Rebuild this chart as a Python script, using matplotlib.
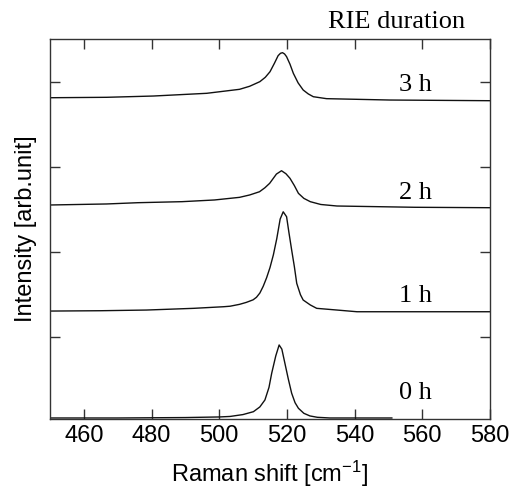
import matplotlib
matplotlib.use("Agg")
import matplotlib.pyplot as plt
import numpy as np

# spectra: Raman shift (cm-1) and intensity above each baseline
x_0h = [450, 470, 490, 500, 503.2, 507, 510.1, 512, 513.5, 514.7, 515.5, 516.7, 517.7, 518.5, 519.4, 520.4, 521.4, 522.4, 523.4, 525, 526.8, 529, 532.7, 551]
y_0h = [0.0, 0.0, 0.05, 0.12, 0.18, 0.4, 0.74, 1.3, 2.12, 3.6, 5.26, 7.3, 8.59, 8.1, 6.44, 4.6, 2.91, 1.8, 1.14, 0.55, 0.24, 0.08, 0.0, 0.0]

x_1h = [450, 465, 478.5, 492.4, 501.3, 503.2, 506, 508, 510, 511, 512, 513, 514, 515, 516, 517, 518, 518.9, 519.9, 520.6, 521.4, 522.2, 522.9, 524, 524.8, 526.9, 528.8, 534.8, 540.7, 580]
y_1h = [0.08, 0.12, 0.2, 0.4, 0.59, 0.65, 0.87, 1.1, 1.4, 1.7, 2.2, 3.0, 4.0, 5.2, 6.7, 8.6, 10.9, 11.76, 11.18, 9.3, 7.26, 5.3, 3.34, 2.0, 1.38, 0.8, 0.4, 0.2, 0.0, 0.0]

x_2h = [450, 466.7, 476, 489, 498.6, 506, 509, 511.9, 513.5, 514.9, 516.9, 518.4, 519.7, 520.9, 522.2, 523.4, 525, 526.9, 530, 534.8, 557.8, 580]
y_2h = [0.32, 0.44, 0.59, 0.71, 0.91, 1.22, 1.5, 1.88, 2.35, 2.87, 3.96, 4.35, 4.0, 3.46, 2.6, 1.69, 1.1, 0.71, 0.38, 0.2, 0.05, 0.0]

x_3h = [450, 466.7, 480.5, 496.3, 506, 509, 512, 513.6, 515, 516.3, 517.4, 518.1, 518.7, 519.3, 519.9, 520.9, 521.9, 523.3, 524.8, 526.3, 527.8, 531.7, 550.4, 580]
y_3h = [0.35, 0.4, 0.55, 0.87, 1.34, 1.7, 2.24, 2.75, 3.41, 4.4, 5.3, 5.58, 5.65, 5.5, 5.18, 4.3, 3.22, 2.1, 1.26, 0.8, 0.47, 0.24, 0.08, 0.0]

offsets = [0.44, 12.94, 25.18, 37.77]
labels = ["0 h", "1 h", "2 h", "3 h"]
label_y = [3.38, 14.79, 26.9, 39.6]
label_x = 558.1

xticks = [460, 480, 500, 520, 540, 560, 580]
yticks = [10, 20, 30, 40]

plt.rcParams['font.family'] = ['Liberation Sans', 'DejaVu Sans']
plt.rcParams['mathtext.default'] = 'regular'

fig = plt.figure(figsize=(5.15, 4.98), dpi=100)
ax = fig.add_axes([50 / 515, 79 / 498, 440 / 515, 380 / 498])

spectra = [(x_0h, y_0h), (x_1h, y_1h), (x_2h, y_2h), (x_3h, y_3h)]
for (xs, ys), off, lab, ly in zip(spectra, offsets, labels, label_y):
    ax.plot(xs, np.array(ys) + off, color='#111111', lw=1.0)
    ax.text(label_x, ly, lab, family='Liberation Serif', fontsize=19,
            ha='center', va='center')

ax.set_xlim(450, 580)
ax.set_ylim(0.32, 45.03)
ax.set_xticks(xticks)
ax.set_yticks(yticks)
ax.set_yticklabels([])
ax.tick_params(direction='in', length=7, width=1, top=True, right=True,
               labelsize=17, pad=4, color='#333333')
ax.tick_params(axis='x', labeltop=False)
for s in ax.spines.values():
    s.set_color('#333333')
    s.set_linewidth(1)

ax.set_xlabel("Raman shift [cm$^{-1}$]", fontsize=17, labelpad=9)
ax.set_ylabel("Intensity [arb.unit]", fontsize=17, labelpad=5)

fig.text(397 / 515, 1 - 22 / 498, "RIE duration", family='Liberation Serif',
         fontsize=19, ha='center', va='center')

fig.savefig("out.png", dpi=100)
